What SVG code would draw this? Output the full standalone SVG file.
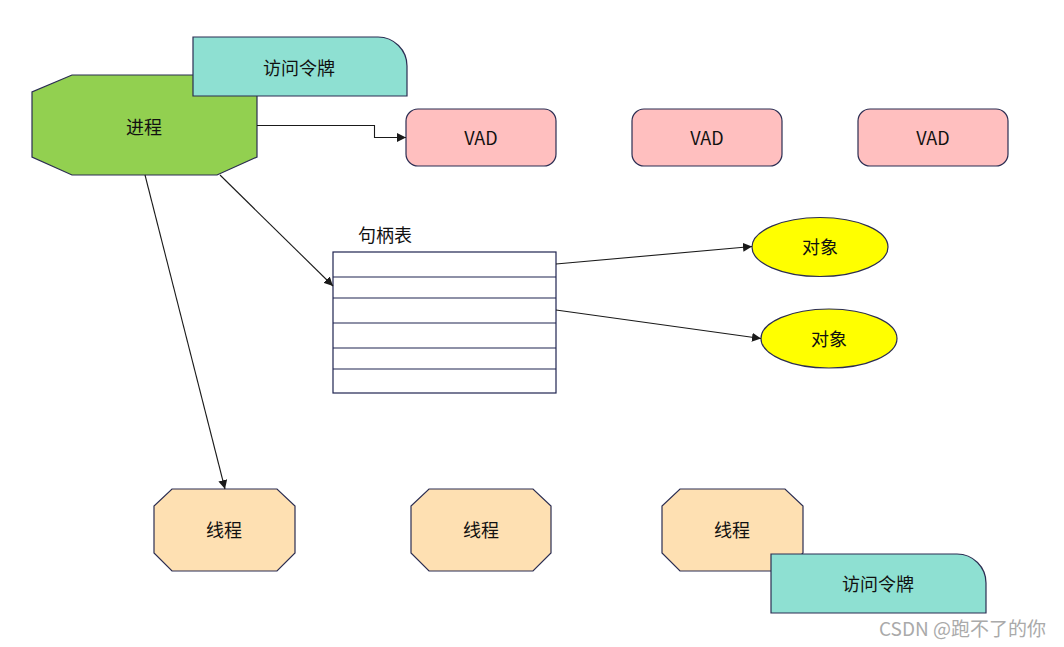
<svg xmlns="http://www.w3.org/2000/svg" width="1064" height="647" viewBox="0 0 1064 647">
<style>
.sh{stroke:#2b2d52;stroke-width:1.2}
.t{font-family:"Noto Sans CJK SC","Liberation Sans",sans-serif;font-size:18px;fill:#111;text-anchor:middle;dominant-baseline:central}
.c{fill:none;stroke:#1a1a1a;stroke-width:1.1}
.row{stroke:#1e2450;stroke-width:1.2}
</style>
<defs>
<marker id="ah" viewBox="0 0 10 10" refX="10" refY="5" markerWidth="9" markerHeight="9" markerUnits="userSpaceOnUse" orient="auto"><path d="M0,0L10,5L0,10z" fill="#1a1a1a"/></marker>
</defs>
<rect width="1064" height="647" fill="#fff"/>
<g id="process">
<polygon class="sh" fill="#92D050" points="72,75 217,75 257,92 257,157 217,175 72,175 32,157 32,92"/>
<text class="t" x="144" y="126">进程</text>
</g>
<g id="token1">
<path class="sh" fill="#8EE0D2" d="M193,37H378A29,29 0 0 1 407,66V96H193Z"/>
<text class="t" x="299" y="67">访问令牌</text>
</g>
<g id="vad1"><rect class="sh" fill="#FFBFBF" x="406" y="109" width="150" height="57" rx="12"/><text class="t" x="481" y="137">VAD</text></g>
<g id="vad2"><rect class="sh" fill="#FFBFBF" x="632" y="109" width="150" height="57" rx="12"/><text class="t" x="707" y="137">VAD</text></g>
<g id="vad3"><rect class="sh" fill="#FFBFBF" x="858" y="109" width="150" height="57" rx="12"/><text class="t" x="933" y="137">VAD</text></g>
<g id="handletable">
<text class="t" x="385" y="234">句柄表</text>
<rect x="333" y="252" width="223" height="141" fill="#fff" class="row"/>
<line class="row" x1="333" y1="277" x2="556" y2="277"/>
<line class="row" x1="333" y1="298" x2="556" y2="298"/>
<line class="row" x1="333" y1="323" x2="556" y2="323"/>
<line class="row" x1="333" y1="348" x2="556" y2="348"/>
<line class="row" x1="333" y1="369" x2="556" y2="369"/>
</g>
<g id="object1"><ellipse class="sh" fill="#FFFF00" cx="820" cy="247" rx="68" ry="29.5"/><text class="t" x="820" y="246">对象</text></g>
<g id="object2"><ellipse class="sh" fill="#FFFF00" cx="829" cy="338.5" rx="68" ry="29.5"/><text class="t" x="829" y="338">对象</text></g>
<g id="thread1"><polygon class="sh" fill="#FEE0B2" points="172,489 277,489 295,506 295,553 277,571 172,571 154,553 154,506"/><text class="t" x="224" y="529">线程</text></g>
<g id="thread2"><polygon class="sh" fill="#FEE0B2" points="429,489 533,489 551,506 551,553 533,571 429,571 411,553 411,506"/><text class="t" x="481" y="529">线程</text></g>
<g id="thread3"><polygon class="sh" fill="#FEE0B2" points="680,489 785,489 803,506 803,553 785,571 680,571 662,553 662,506"/><text class="t" x="732" y="529">线程</text></g>
<g id="token2">
<path class="sh" fill="#8EE0D2" d="M771,554H957A29,29 0 0 1 986,583V613H771Z"/>
<text class="t" x="878" y="583">访问令牌</text>
</g>
<g id="connectors">
<path class="c" d="M257,125.5H374.5V137.5H406" marker-end="url(#ah)"/>
<path class="c" d="M220,175L333,286" marker-end="url(#ah)"/>
<path class="c" d="M145,175L225,489" marker-end="url(#ah)"/>
<path class="c" d="M556,264L752,246.5" marker-end="url(#ah)"/>
<path class="c" d="M556,310L761,338.5" marker-end="url(#ah)"/>
</g>
<text x="962.5" y="627" font-family="Noto Sans CJK SC,Liberation Sans,sans-serif" font-size="19" fill="#aaa" text-anchor="middle" dominant-baseline="central">CSDN @跑不了的你</text>
</svg>
